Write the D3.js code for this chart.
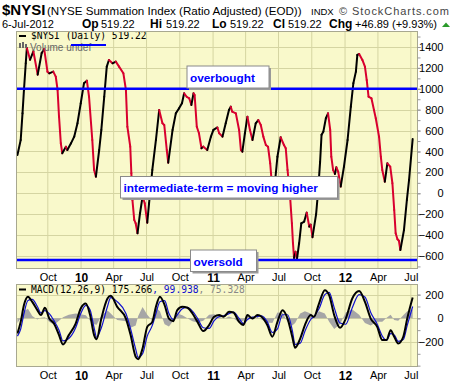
<!DOCTYPE html>
<html>
<head>
<meta charset="utf-8">
<script src="https://cdn.jsdelivr.net/npm/d3@7"></script>
<style>
  body { margin: 0; background: #fff; }
  svg { display: block; }
  text { font-family: "Liberation Sans", Arial, sans-serif; }
  .mono { font-family: "DejaVu Sans Mono", monospace; }
</style>
</head>
<body>
<div id="chart"></div>
<script>
// $NYSI daily values
let nysiDates = [
  '2009-07-09','2009-07-18','2009-07-23','2009-07-27','2009-08-01','2009-08-04','2009-08-13','2009-08-22','2009-09-03','2009-09-14',
  '2009-09-21','2009-09-30','2009-10-05','2009-10-16','2009-10-23','2009-10-28','2009-11-01','2009-11-06','2009-11-10','2009-11-20',
  '2009-11-24','2009-12-04','2009-12-13','2009-12-22','2009-12-31','2010-01-09','2010-01-17','2010-01-23','2010-02-01','2010-02-06',
  '2010-02-11','2010-02-20','2010-02-26','2010-03-06','2010-03-13','2010-03-19','2010-03-29','2010-04-07','2010-04-16','2010-04-28',
  '2010-05-05','2010-05-09','2010-05-17','2010-05-20','2010-05-23','2010-05-28','2010-06-01','2010-06-06','2010-06-13','2010-06-20',
  '2010-06-26','2010-07-03','2010-07-08','2010-07-17','2010-07-27','2010-08-05','2010-08-14','2010-08-19','2010-08-26','2010-08-30',
  '2010-09-11','2010-09-20','2010-09-29','2010-10-07','2010-10-13','2010-10-20','2010-10-27','2010-11-02','2010-11-08','2010-11-11',
  '2010-11-17','2010-11-23','2010-11-30','2010-12-05','2010-12-16','2010-12-26','2011-01-02','2011-01-13','2011-01-18','2011-01-27',
  '2011-02-05','2011-02-14','2011-02-19','2011-02-23','2011-03-05','2011-03-14','2011-03-19','2011-03-23','2011-03-30','2011-04-06',
  '2011-04-13','2011-04-20','2011-04-29','2011-05-06','2011-05-13','2011-05-20','2011-05-27','2011-06-02','2011-06-08','2011-06-11',
  '2011-06-20','2011-06-28','2011-07-07','2011-07-16','2011-07-21','2011-07-26','2011-08-02','2011-08-07','2011-08-10','2011-08-13',
  '2011-08-17','2011-08-21','2011-08-27','2011-09-02','2011-09-10','2011-09-17','2011-09-24','2011-09-28','2011-10-03','2011-10-13',
  '2011-10-18','2011-10-24','2011-10-28','2011-11-02','2011-11-09','2011-11-15','2011-11-21','2011-11-24','2011-11-29','2011-12-04',
  '2011-12-08','2011-12-13','2011-12-20','2011-12-29','2012-01-08','2012-01-17','2012-01-24','2012-01-31','2012-02-04','2012-02-09',
  '2012-02-18','2012-02-25','2012-03-01','2012-03-06','2012-03-14','2012-03-21','2012-03-26','2012-04-04','2012-04-09','2012-04-13',
  '2012-04-20','2012-04-27','2012-05-05','2012-05-11','2012-05-16','2012-05-20','2012-05-25','2012-05-29','2012-06-02','2012-06-12',
  '2012-06-20','2012-06-26','2012-07-06'
]
let nysiValues = [
  366, 510, 765, 988, 1244, 1390, 1278, 1359, 1135, 1342,
  1380, 1164, 1148, 1164, 1116, 989, 733, 478, 383, 446,
  414, 478, 542, 670, 861, 1053, 1078, 924, 510, 223,
  159, 414, 606, 924, 1212, 1276, 1244, 1260, 1212, 1148,
  989, 637, 446, 191, -64, -255, -287, -383, -191, -32,
  -96, -281, -96, 223, 510, 797, 670, 654, 414, 293,
  606, 765, 813, 861, 957, 924, 909, 845, 957, 941,
  637, 574, 431, 446, 414, 542, 606, 630, 574, 542,
  670, 797, 829, 781, 765, 606, 414, 398, 574, 733,
  606, 510, 670, 701, 654, 542, 462, 446, 287, 159,
  60, 350, 536, 462, 431, 223, -32, -287, -478, -620,
  -560, -630, -478, -287, -271, -185, -319, -300, -420, -200,
  0, 300, 560, 590, 718, 765, 606, 350, 223, 185,
  249, 207, 64, 255, 510, 829, 1053, 1164, 1324, 1333,
  1276, 1212, 1084, 924, 909, 797, 718, 542, 350, 223,
  111, 287, 255, 96, -160, -383, -440, -454, -543, -351,
  -64, 127, 519
]

// MACD(12,26,9)
let macdDates = [
  '2009-07-09','2009-07-18','2009-07-27','2009-08-07','2009-08-19','2009-09-02','2009-09-12','2009-09-23','2009-10-05','2009-10-18',
  '2009-11-01','2009-11-12','2009-11-28','2009-12-17','2009-12-31','2010-01-14','2010-01-26','2010-02-06','2010-02-13','2010-02-26',
  '2010-03-15','2010-03-24','2010-04-11','2010-05-05','2010-05-18','2010-06-01','2010-06-08','2010-06-20','2010-07-03','2010-07-17',
  '2010-07-27','2010-08-07','2010-08-20','2010-09-01','2010-09-13','2010-09-24','2010-10-08','2010-10-22','2010-11-05','2010-11-19',
  '2010-12-05','2010-12-21','2011-01-04','2011-01-18','2011-01-30','2011-02-14','2011-02-26','2011-03-14','2011-03-26','2011-04-06',
  '2011-04-20','2011-05-04','2011-05-15','2011-05-31','2011-06-14','2011-06-28','2011-07-12','2011-07-26','2011-08-08','2011-08-16',
  '2011-08-30','2011-09-12','2011-09-28','2011-10-07','2011-10-21','2011-11-06','2011-11-18','2011-12-02','2011-12-18','2012-01-03',
  '2012-01-21','2012-02-09','2012-02-25','2012-03-12','2012-03-30','2012-04-13','2012-04-25','2012-05-06','2012-05-16','2012-05-27',
  '2012-06-10','2012-06-21','2012-07-06'
]
let macdValues = [
  -128, -30, 112, 182, 139, 69, 27, 89, -2, -44,
  -142, -221, -142, -44, 83, 125, 27, -142, -176, -2,
  167, 190, 97, -2, -142, -325, -345, -255, -72, -30,
  97, 182, 112, -2, -24, 69, 97, 89, 41, -30,
  -108, -57, 13, 27, 13, 55, 49, -30, -57, 27,
  -2, 27, 13, -57, -156, -30, 69, -2, -156, -249,
  -171, -57, 27, 13, 125, 238, 196, 27, -80, -2,
  167, 230, 139, -2, -72, -184, -184, -100, -156, -213,
  -156, -2, 175
]
let signalValues = [
  -150, -90, 40, 150, 160, 100, 45, 65, 40, -20,
  -100, -190, -170, -80, 40, 110, 70, -80, -160, -80,
  100, 175, 140, 40, -90, -260, -330, -300, -150, -60,
  40, 140, 150, 40, -10, 30, 80, 92, 60, 0,
  -80, -85, -20, 15, 20, 40, 52, 0, -45, -10,
  10, 15, 20, -30, -120, -90, 30, 30, -100, -220,
  -210, -110, -10, 15, 80, 200, 220, 90, -40, -50,
  90, 200, 180, 50, -50, -150, -185, -130, -140, -195,
  -180, -60, 100
]
let histValues = [
  -40, 0, 60, 80, 20, -10, 5, 10, -30, -55,
  -20, 10, 30, 40, 35, 25, -20, -50, -55, 20,
  65, 40, -15, -25, -80, -60, 20, 95, 30, -20,
  90, 60, -50, -70, -20, 40, 25, 0, -25, -35,
  -20, 30, 35, 15, -5, 15, 0, -35, -20, 25,
  -10, 10, -10, -35, -40, 50, 45, -30, -60, -40,
  40, 60, 40, 10, 60, 40, -30, -90, -50, 50,
  75, 30, -40, -60, -30, -30, 5, 30, -15, -20,
  25, 60, 75
]

// axis ticks
let quarterDates = ['2009-10-01','2010-01-01','2010-04-01','2010-07-01','2010-10-01','2011-01-01','2011-04-01','2011-07-01','2011-10-01','2012-01-01','2012-04-01','2012-07-01']
let quarterLabels = ['Oct','10','Apr','Jul','Oct','11','Apr','Jul','Oct','12','Apr','Jul']
let nysiTicks = [-600, -400, -200, 0, 200, 400, 600, 800, 1000, 1200, 1400]
let macdTicks = [-200, 0, 200]

let parseDate = d3.timeParse('%Y-%m-%d')
let nysi = nysiDates.map((d, i) => ({ date: parseDate(d), value: nysiValues[i] }))
let macd = macdDates.map((d, i) => ({ date: parseDate(d), macd: macdValues[i], signal: signalValues[i], hist: histValues[i] }))

let width = 460, height = 383
let left = 16, right = 417
let mainTop = 31, mainBottom = 268
let macdTop = 284, macdBottom = 366

let svg = d3.select('#chart').append('svg')
  .attr('width', width)
  .attr('height', height)

svg.append('rect').attr('width', width).attr('height', height).attr('fill', '#fff')

let xScale = d3.scaleTime().domain([parseDate('2009-07-05'), parseDate('2012-07-18')]).range([left, right])
let yScale = d3.scaleLinear().domain([-715, 1553]).range([mainBottom, mainTop])
let yMacd = d3.scaleLinear().domain([-403, 290]).range([macdBottom, macdTop])

let qDates = quarterDates.map(parseDate)

function drawPanel(id, top, bottom, y, gridVals) {
  svg.append('clipPath').attr('id', id)
    .append('rect').attr('x', left).attr('y', top).attr('width', right - left).attr('height', bottom - top)
  svg.append('rect')
    .attr('x', left).attr('y', top).attr('width', right - left).attr('height', bottom - top)
    .attr('fill', '#f9f9cb')
  let grid = svg.append('g').attr('clip-path', `url(#${id})`)
  grid.selectAll('.vg').data(qDates).enter().append('line')
    .attr('x1', d => xScale(d)).attr('x2', d => xScale(d))
    .attr('y1', top).attr('y2', bottom)
    .attr('stroke', '#d5d5a2').attr('stroke-width', 1)
  grid.selectAll('.hg').data(gridVals).enter().append('line')
    .attr('x1', left).attr('x2', right)
    .attr('y1', d => Math.round(y(d)) + 0.5).attr('y2', d => Math.round(y(d)) + 0.5)
    .attr('stroke', '#d5d5a2').attr('stroke-width', 1)
  return grid
}

function drawFrame(top, bottom, y, labelVals, minorVals) {
  svg.append('rect')
    .attr('x', left + 0.5).attr('y', top + 0.5).attr('width', right - left).attr('height', bottom - top)
    .attr('fill', 'none').attr('stroke', '#a8a890')

  // minor ticks on the right
  svg.append('g')
    .attr('transform', `translate(${right + 0.5}, 0)`)
    .call(d3.axisRight(y).tickValues(minorVals).tickSize(3).tickFormat(''))
    .call(g => g.select('.domain').remove())
    .call(g => g.selectAll('line').attr('stroke', '#999'))

  svg.append('g')
    .attr('transform', `translate(${right + 0.5}, 0)`)
    .call(d3.axisRight(y).tickValues(labelVals).tickSize(3).tickFormat(d3.format('d')))
    .call(g => g.select('.domain').remove())
    .call(g => g.selectAll('line').attr('stroke', '#999'))
    .call(g => g.selectAll('text')
      .attr('x', 26).attr('text-anchor', 'end')
      .attr('font-family', '"Liberation Sans", Arial, sans-serif')
      .attr('font-size', 11).attr('fill', '#000'))

  svg.append('g')
    .attr('transform', `translate(0, ${bottom})`)
    .call(d3.axisBottom(xScale).tickValues(qDates).tickSize(0).tickPadding(5)
      .tickFormat((d, i) => quarterLabels[i]))
    .call(g => g.select('.domain').remove())
    .call(g => g.selectAll('text')
      .attr('font-family', '"Liberation Sans", Arial, sans-serif')
      .attr('font-size', (d, i) => /\d/.test(quarterLabels[i]) ? 12 : 11)
      .attr('font-weight', (d, i) => /\d/.test(quarterLabels[i]) ? 'bold' : 'normal')
      .attr('fill', '#000'))
}

// ---------- header ----------
let head = svg.append('g')
head.append('text').attr('x', 2).attr('y', 15).attr('font-size', 15).attr('font-weight', 'bold').text('$NYSI')
head.append('text').attr('x', 47).attr('y', 15).attr('font-size', 11.6).text('(NYSE Summation Index (Ratio Adjusted) (EOD))')
head.append('text').attr('x', 311).attr('y', 15).attr('font-size', 9.5).text('INDX')
head.append('text').attr('x', 339).attr('y', 15).attr('font-size', 11).attr('fill', '#444')
  .attr('font-family', '"DejaVu Sans", Verdana, sans-serif').attr('textLength', 110).text('\u00a9 StockCharts.com')

head.append('text').attr('x', 2).attr('y', 28).attr('font-size', 11).text('6-Jul-2012')
// label, value, label x, value x
let quote = [
  ['Op', '519.22', 82, 101],
  ['Hi', '519.22', 150, 166],
  ['Lo', '519.22', 212, 230],
  ['Cl', '519.22', 273, 288],
  ['Chg', '+46.89 (+9.93%)', 329, 355]
]
for (let q of quote) {
  head.append('text').attr('x', q[2]).attr('y', 28).attr('font-size', 12).attr('font-weight', 'bold').text(q[0])
  head.append('text').attr('x', q[3]).attr('y', 28).attr('font-size', 11).text(q[1])
}
head.append('path').attr('d', 'M442,27 L450,27 L446,22.5 Z').attr('fill', '#2a9a2a')

// ---------- main panel ----------
let mainGrid = drawPanel('clip-main', mainTop, mainBottom, yScale, nysiTicks)

let line = d3.line().x(d => xScale(d.date)).y(d => yScale(d.value))
for (let i = 1; i < nysi.length; i++) {
  let seg = [nysi[i - 1], nysi[i]]
  mainGrid.append('path')
    .datum(seg)
    .attr('d', line)
    .attr('fill', 'none')
    .attr('stroke', nysi[i].value >= nysi[i - 1].value ? '#000' : '#d8002e')
    .attr('stroke-width', 2)
    .attr('stroke-linecap', 'round')
}

// overbought / oversold lines
let levels = [1000, -638]
mainGrid.selectAll('.lvl').data(levels).enter().append('line')
  .attr('x1', left).attr('x2', right)
  .attr('y1', d => yScale(d)).attr('y2', d => yScale(d))
  .attr('stroke', '#0000ff').attr('stroke-width', 2.5)

// legend
let leg = svg.append('g')
leg.append('line').attr('x1', 19).attr('x2', 26).attr('y1', 36).attr('y2', 36).attr('stroke', '#000').attr('stroke-width', 2)
leg.append('text').attr('class', 'mono').attr('x', 31).attr('y', 39).attr('font-size', 9.6).text('$NYSI (Daily) 519.22')
leg.append('rect').attr('x', 19).attr('y', 43).attr('width', 2).attr('height', 5).attr('fill', '#666')
leg.append('rect').attr('x', 22).attr('y', 42).attr('width', 2).attr('height', 6).attr('fill', '#666')
leg.append('rect').attr('x', 25).attr('y', 44).attr('width', 2).attr('height', 4).attr('fill', '#666')
leg.append('text').attr('x', 30).attr('y', 50.5).attr('font-size', 10).attr('fill', '#666').text('Volume undef')
leg.append('line').attr('x1', 71).attr('x2', 106).attr('y1', 45).attr('y2', 45).attr('stroke', '#0000ff').attr('stroke-width', 2)

// annotation boxes
let notes = [
  { text: 'overbought', x: 187, y: 66, w: 82, h: 22 },
  { text: 'intermediate-term = moving higher', x: 120.5, y: 176.5, w: 217, h: 21.5 },
  { text: 'oversold', x: 190.5, y: 250, w: 66, h: 21.5 }
]

drawFrame(mainTop, mainBottom, yScale, nysiTicks, d3.range(-700, 1501, 100))

for (let n of notes) {
  svg.append('rect').attr('x', n.x + 2).attr('y', n.y + 2).attr('width', n.w).attr('height', n.h).attr('fill', '#9a9a9a')
  svg.append('rect').attr('x', n.x).attr('y', n.y).attr('width', n.w).attr('height', n.h)
    .attr('fill', '#fff').attr('stroke', '#8a8a8a').attr('stroke-width', 1)
  svg.append('text').attr('x', n.x + 3).attr('y', n.y + 15.5)
    .attr('font-size', 11.8).attr('font-weight', 'bold').attr('fill', '#0000ff').text(n.text)
}

// ---------- MACD panel ----------
let macdGrid = drawPanel('clip-macd', macdTop, macdBottom, yMacd, macdTicks)

let histArea = d3.area().x(d => xScale(d.date)).y0(yMacd(0)).y1(d => yMacd(d.hist))
macdGrid.append('path').datum(macd).attr('d', histArea).attr('fill', '#a6a6a6')

let sigLine = d3.line().x(d => xScale(d.date)).y(d => yMacd(d.signal)).curve(d3.curveMonotoneX)
macdGrid.append('path').datum(macd).attr('d', sigLine)
  .attr('fill', 'none').attr('stroke', '#1010d0').attr('stroke-width', 1.2)

let macdLine = d3.line().x(d => xScale(d.date)).y(d => yMacd(d.macd)).curve(d3.curveMonotoneX)
macdGrid.append('path').datum(macd).attr('d', macdLine)
  .attr('fill', 'none').attr('stroke', '#000').attr('stroke-width', 2)

drawFrame(macdTop, macdBottom, yMacd, macdTicks, d3.range(-400, 201, 100))

let mleg = svg.append('g')
mleg.append('line').attr('x1', 19).attr('x2', 26).attr('y1', 289.5).attr('y2', 289.5).attr('stroke', '#000').attr('stroke-width', 2)
let mt = mleg.append('text').attr('class', 'mono').attr('x', 31).attr('y', 293).attr('font-size', 9.6)
mt.append('tspan').attr('fill', '#000').text('MACD(12,26,9) 175.266')
mt.append('tspan').attr('fill', '#1010d0').text(', 99.938')
mt.append('tspan').attr('fill', '#888').text(', 75.328')
</script>
</body>
</html>
